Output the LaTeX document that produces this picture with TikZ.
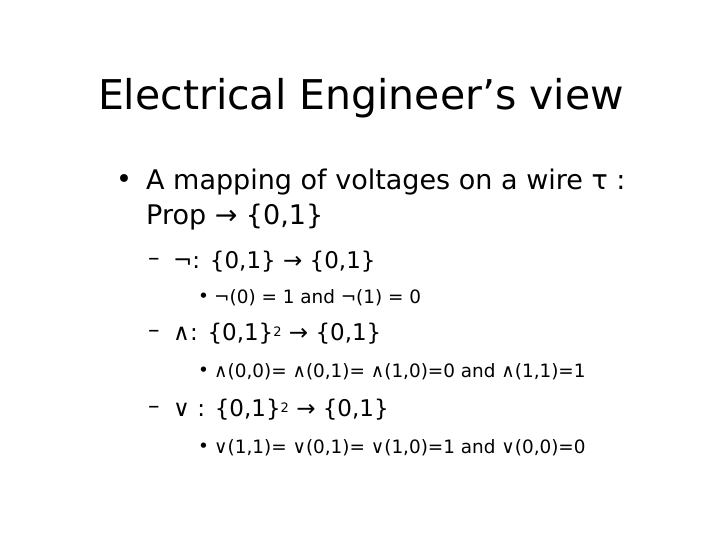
\documentclass[tikz,border=0pt]{standalone}
\usepackage{fontspec}
\setmainfont{DejaVu Sans}
\begin{document}
\begin{tikzpicture}[x=1pt,y=1pt,
  t/.style={anchor=west,inner sep=0pt,text=black},
  l1/.style={t,font=\fontsize{27}{30}\selectfont},
  l2/.style={t,font=\fontsize{23}{26}\selectfont},
  l3/.style={t,font=\fontsize{18.4}{21}\selectfont}]
\fill[white] (0,0) rectangle (720,-540);
\node[inner sep=0pt,font=\fontsize{41}{46}\selectfont] (title) at (361,-98) {Electrical Engineer’s view};
\node[l1] (b1) at (116,-182) {•};
\node[l1] (t1) at (146,-182) {A mapping of voltages on a wire τ :};
\node[l1] (t1b) at (146,-217) {Prop → \{0,1\}};
\node[l2] (d1) at (148,-262) {–};
\node[l2] (s1) at (173,-262) {¬: \{0,1\} → \{0,1\}};
\node[l3] (b2) at (198,-298) {•};
\node[l3] (s1a) at (214,-298) {¬(0) = 1 and ¬(1) = 0};
\node[l2] (d2) at (148,-334) {–};
\node[l2] (s2) at (173,-334) {∧: \{0,1\}{\fontsize{13}{13}\selectfont\raisebox{0.6ex}{2}} → \{0,1\}};
\node[l3] (b3) at (198,-372) {•};
\node[l3] (s2a) at (214,-372) {∧(0,0)= ∧(0,1)= ∧(1,0)=0 and ∧(1,1)=1};
\node[l2] (d3) at (148,-410) {–};
\node[l2] (s3) at (173,-410) {∨ : \{0,1\}{\fontsize{13}{13}\selectfont\raisebox{0.6ex}{2}} → \{0,1\}};
\node[l3] (b4) at (198,-448) {•};
\node[l3] (s3a) at (214,-448) {∨(1,1)= ∨(0,1)= ∨(1,0)=1 and ∨(0,0)=0};
\end{tikzpicture}
\end{document}
